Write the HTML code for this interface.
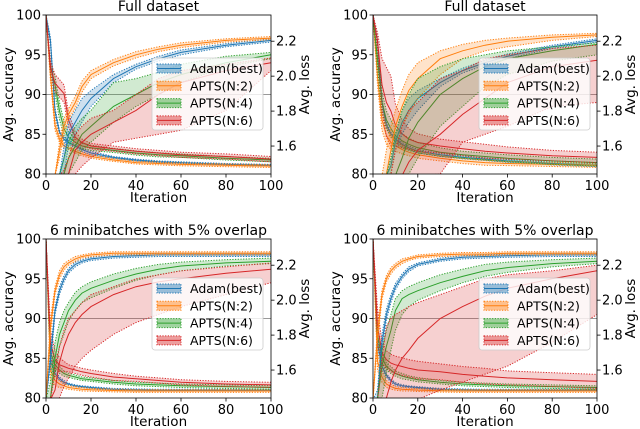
<!DOCTYPE html>
<html><head><meta charset="utf-8"><style>
html,body{margin:0;background:#fff;overflow:hidden;width:640px;height:429px}
svg{display:block;font-family:"DejaVu Sans","Liberation Sans",sans-serif}
</style></head><body>
<svg id="c" width="640" height="429" viewBox="0 0 640 429"></svg>
<script>
const iters=[0,2,4,6,8,10,13,16,20,30,40,50,60,80,100];
const accTicks=[80,85,90,95,100];
const lossTicks=[1.6,1.8,2.0,2.2];
const iterTicks=[0,20,40,60,80,100];
const seriesNames=["Adam(best)","APTS(N:2)","APTS(N:4)","APTS(N:6)"];
const panelTitles=["Full dataset","Full dataset","6 minibatches with 5% overlap","6 minibatches with 5% overlap"];
// ---- top-left
const tlAdamAcc=[70,72,75,78,82,85,86.5,88,89.5,92,93.5,94.5,95.3,96.2,96.8];
const tlAdamLo=[70,71,74,77,80,83.5,85,86.5,88.5,91.5,93.2,94.2,95,96,96.6];
const tlAdamHi=[70,73,76,79,83.5,86.5,88,89.5,90.5,92.5,93.8,94.8,95.6,96.4,97];
const tlN2Acc=[70,74,78,83,86,87.5,89,91,92.5,94,95,95.7,96.2,96.8,97.1];
const tlN2Lo=[70,73,77,82,85,86.8,88.3,90.3,92,93.6,94.6,95.4,95.9,96.6,96.9];
const tlN2Hi=[70,75,79,84,87,88.2,89.8,91.7,93,94.4,95.4,96,96.5,97,97.3];
const tlN4Acc=[70,72,74,78,80,82,83.5,85,86,88.5,90,91.5,92.5,94,95];
const tlN4Lo=[70,71,72,76,78,80,81.5,83,84,86.5,88.5,90,91.5,93.5,94.5];
const tlN4Hi=[70,73,76,80,82,84,86,87,88,91.5,92,92.8,93.8,94.8,95.3];
const tlN6Acc=[70,71,73,75,78,80,83,84,85,86.5,88,90,91.5,93,94];
const tlN6Lo=[70,70,71,73,75,77,80,81,82,84,84.5,85,85.5,88,93];
const tlN6Hi=[70,72,75,78,80.5,82,85,86,87,88,90,92,93,93.8,94.6];
const tlAdamLoss=[2.35,2.2,1.8,1.68,1.64,1.62,1.6,1.58,1.56,1.535,1.52,1.51,1.505,1.495,1.49];
const tlN2Loss=[2.35,2.0,1.72,1.64,1.6,1.59,1.57,1.555,1.54,1.52,1.505,1.5,1.495,1.49,1.485];
const tlN4Loss=[2.35,2.05,1.95,1.8,1.7,1.65,1.62,1.6,1.59,1.575,1.56,1.55,1.545,1.53,1.52];
const tlN6Loss=[2.35,2.05,1.96,1.93,1.9,1.75,1.65,1.62,1.6,1.585,1.57,1.56,1.55,1.54,1.525];
const tlAdamSpread=[0,0.02,0.02,0.01,0.01,0.01,0.01,0.01,0.01,0.005,0.005,0.005,0.005,0.005,0.005];
const tlN2Spread=[0,0.03,0.03,0.02,0.015,0.01,0.01,0.01,0.01,0.008,0.008,0.008,0.008,0.008,0.008];
const tlN4Spread=[0,0.03,0.05,0.05,0.04,0.03,0.02,0.015,0.015,0.012,0.012,0.012,0.01,0.01,0.01];
const tlN6Spread=[0,0.03,0.05,0.05,0.05,0.04,0.03,0.02,0.015,0.015,0.015,0.015,0.015,0.015,0.015];
// ---- top-right
const trAdamAcc=[70,72,75,78,81,84,86.5,88,89.5,91.5,93,94,94.8,96,96.8];
const trAdamLo=[70,71,74,77,80,83,85,86.5,88,91,92.7,93.7,94.5,95.8,96.6];
const trAdamHi=[70,73,76,79,82,85,88,89.5,90.5,92,93.3,94.3,95.1,96.2,97];
const trN2Acc=[70,72,76,80,83,86,88.5,90.5,92,94.5,95.5,96.2,96.7,97.2,97.5];
const trN2Lo=[70,71,74,77,80,83,86,87.5,89.5,92.5,94.5,95.5,96,96.8,97.3];
const trN2Hi=[70,73,78,83,86,88,90.5,92.5,94,95.5,96.3,96.8,97.1,97.5,97.7];
const trN4Acc=[70,71,72,74,76,78,82,84.5,86.5,90,92,93.5,94.5,95.5,96.3];
const trN4Lo=[70,70,70,71,73,75,78,80,82,86,88.5,91,92.5,94.2,95];
const trN4Hi=[70,72,75,78,82,85,88,90,92,93.5,94.5,95,95.5,96,96.5];
const trN6Acc=[70,70,71,72,74,76,79,81.5,83,85,87.5,89.5,91.5,93.5,94.3];
const trN6Lo=[70,70,70,70,70,70,72,76,78,80,84,85,86,88.5,89];
const trN6Hi=[70,72,74,76,80,83,86,88,89,92,93,94.5,95,95.8,96.2];
const trAdamLoss=[2.35,2.2,1.85,1.72,1.67,1.64,1.61,1.59,1.57,1.55,1.535,1.525,1.515,1.5,1.49];
const trN2Loss=[2.35,2.0,1.75,1.66,1.62,1.6,1.58,1.565,1.55,1.53,1.515,1.505,1.5,1.495,1.49];
const trN4Loss=[2.35,2.1,1.85,1.75,1.7,1.66,1.63,1.61,1.59,1.565,1.55,1.54,1.53,1.515,1.505];
const trN6Loss=[2.35,2.2,1.95,1.85,1.8,1.72,1.67,1.64,1.62,1.6,1.585,1.57,1.56,1.545,1.535];
const trAdamSpread=[0,0.02,0.02,0.015,0.01,0.01,0.01,0.01,0.01,0.008,0.008,0.008,0.008,0.008,0.008];
const trN2Spread=[0,0.05,0.06,0.05,0.04,0.03,0.025,0.02,0.02,0.015,0.015,0.015,0.012,0.012,0.012];
const trN4Spread=[0,0.05,0.06,0.05,0.05,0.04,0.04,0.035,0.03,0.025,0.02,0.02,0.02,0.02,0.02];
const trN6Spread=[0,0.05,0.15,0.2,0.2,0.12,0.08,0.06,0.05,0.04,0.04,0.04,0.035,0.03,0.03];
// ---- bottom-left
const blAdamAcc=[70,85,91,93.5,95,96,96.8,97.2,97.5,97.8,97.9,98,98,98,98];
const blAdamLo=[70,84,90.5,93,94.6,95.7,96.5,97,97.3,97.6,97.7,97.8,97.8,97.8,97.8];
const blAdamHi=[70,86,91.5,94,95.4,96.3,97.1,97.4,97.7,98,98.1,98.2,98.2,98.2,98.2];
const blN2Acc=[70,89,93.5,95.5,96.5,97,97.5,97.8,98,98.2,98.2,98.2,98.2,98.2,98.2];
const blN2Lo=[70,88,93,95,96.1,96.7,97.2,97.6,97.8,98,98,98,98,98,98];
const blN2Hi=[70,90,94,96,96.9,97.3,97.8,98,98.2,98.4,98.4,98.4,98.4,98.4,98.4];
const blN4Acc=[70,80,85,88,89.5,91,92.3,93.2,93.8,94.8,95.6,96.2,96.6,97,97.2];
const blN4Lo=[70,78,83,86.5,88,89.7,91,92,92.6,93.8,94.8,95.5,96,96.6,96.9];
const blN4Hi=[70,82,87,89.5,91,92,93.3,94,94.6,95.6,96.3,96.8,97.1,97.4,97.6];
const blN6Acc=[70,75,81,84.5,86.5,88,89.5,90.5,91.5,93,94,94.6,95,95.7,96.2];
const blN6Lo=[70,72,77,80,81.5,82.5,84,85,86,88,89.5,90.5,91.5,93,94.5];
const blN6Hi=[70,80,84,86.5,88.5,90,91,92,93,94,95,95.5,96,96.5,97];
const blAdamLoss=[2.35,1.65,1.58,1.55,1.53,1.52,1.51,1.505,1.5,1.49,1.487,1.485,1.485,1.485,1.485];
const blN2Loss=[2.35,1.6,1.54,1.52,1.51,1.5,1.495,1.49,1.487,1.483,1.48,1.48,1.48,1.48,1.48];
const blN4Loss=[2.35,1.7,1.63,1.6,1.58,1.57,1.56,1.55,1.545,1.53,1.52,1.515,1.51,1.505,1.5];
const blN6Loss=[2.35,1.75,1.66,1.63,1.62,1.61,1.6,1.59,1.58,1.56,1.55,1.54,1.53,1.52,1.515];
const blAdamSpread=[0,0.03,0.02,0.01,0.01,0.005,0.005,0.005,0.005,0.005,0.005,0.005,0.005,0.005,0.005];
const blN2Spread=[0,0.05,0.03,0.02,0.015,0.01,0.01,0.01,0.008,0.008,0.008,0.008,0.008,0.008,0.008];
const blN4Spread=[0,0.06,0.03,0.02,0.015,0.012,0.012,0.01,0.01,0.01,0.01,0.01,0.01,0.01,0.01];
const blN6Spread=[0,0.08,0.05,0.04,0.03,0.02,0.02,0.02,0.02,0.02,0.015,0.015,0.015,0.015,0.015];
// ---- bottom-right
const brAdamAcc=[70,80,87,90.5,92.5,94,95.3,96.2,96.8,97.4,97.7,97.8,97.9,98,98];
const brAdamLo=[70,79,86,89.8,92,93.6,95,95.9,96.6,97.2,97.5,97.6,97.7,97.8,97.8];
const brAdamHi=[70,81,88,91.2,93,94.4,95.6,96.5,97,97.6,97.9,98,98.1,98.2,98.2];
const brN2Acc=[70,88,93,95,96,96.6,97.2,97.5,97.8,98,98.1,98.1,98.2,98.2,98.2];
const brN2Lo=[70,87,92.4,94.6,95.6,96.3,96.9,97.3,97.6,97.8,97.9,97.9,98,98,98];
const brN2Hi=[70,89,93.6,95.4,96.4,96.9,97.5,97.7,98,98.2,98.3,98.3,98.4,98.4,98.4];
const brN4Acc=[70,78,84,86.5,88.5,91,92.5,93,93.5,94.5,95.3,96,96.4,96.9,97.2];
const brN4Lo=[70,75,80,83,86,88.5,90.5,91.5,92.3,93.5,94.5,95.3,95.8,96.5,96.9];
const brN4Hi=[70,80,86,88.5,90.5,92.5,93.5,94,94.5,95.5,96.2,96.8,97.1,97.4,97.6];
const brN6Acc=[70,72,76,80,82,83.5,85,86,87.5,90,91.5,92.8,93.8,95,96];
const brN6Lo=[70,70,70,70,70,70,70,75,78,81,82,83,84,87,90.5];
const brN6Hi=[70,78,85,89,90,90.5,91,91.5,92,93,94,95,95.5,96,96.7];
const brAdamLoss=[2.35,1.75,1.62,1.57,1.54,1.52,1.51,1.505,1.5,1.49,1.487,1.485,1.485,1.485,1.485];
const brN2Loss=[2.35,1.65,1.56,1.52,1.505,1.495,1.49,1.488,1.485,1.482,1.48,1.48,1.48,1.48,1.48];
const brN4Loss=[2.35,1.8,1.67,1.62,1.6,1.58,1.565,1.555,1.545,1.53,1.52,1.515,1.51,1.505,1.5];
const brN6Loss=[2.35,1.85,1.7,1.66,1.64,1.63,1.62,1.61,1.6,1.59,1.575,1.565,1.555,1.545,1.535];
const brAdamSpread=[0,0.04,0.02,0.01,0.01,0.008,0.006,0.005,0.005,0.005,0.005,0.005,0.005,0.005,0.005];
const brN2Spread=[0,0.05,0.03,0.02,0.015,0.01,0.01,0.008,0.008,0.008,0.008,0.008,0.008,0.008,0.008];
const brN4Spread=[0,0.06,0.03,0.02,0.02,0.015,0.015,0.012,0.012,0.01,0.01,0.01,0.01,0.01,0.01];
const brN6Spread=[0,0.1,0.06,0.05,0.05,0.05,0.05,0.05,0.05,0.045,0.045,0.045,0.04,0.04,0.04];

const colors=["#1f77b4","#ff7f0e","#2ca02c","#d62728"];
const panels=[
 {key:"top-left",x0:46,x1:271,y0:15,y1:174,
  acc:[tlAdamAcc,tlN2Acc,tlN4Acc,tlN6Acc],lo:[tlAdamLo,tlN2Lo,tlN4Lo,tlN6Lo],hi:[tlAdamHi,tlN2Hi,tlN4Hi,tlN6Hi],
  loss:[tlAdamLoss,tlN2Loss,tlN4Loss,tlN6Loss],sp:[tlAdamSpread,tlN2Spread,tlN4Spread,tlN6Spread],lx:152,ly:58},
 {key:"top-right",x0:373,x1:597,y0:15,y1:174,
  acc:[trAdamAcc,trN2Acc,trN4Acc,trN6Acc],lo:[trAdamLo,trN2Lo,trN4Lo,trN6Lo],hi:[trAdamHi,trN2Hi,trN4Hi,trN6Hi],
  loss:[trAdamLoss,trN2Loss,trN4Loss,trN6Loss],sp:[trAdamSpread,trN2Spread,trN4Spread,trN6Spread],lx:479,ly:58},
 {key:"bottom-left",x0:46,x1:271,y0:239,y1:398,
  acc:[blAdamAcc,blN2Acc,blN4Acc,blN6Acc],lo:[blAdamLo,blN2Lo,blN4Lo,blN6Lo],hi:[blAdamHi,blN2Hi,blN4Hi,blN6Hi],
  loss:[blAdamLoss,blN2Loss,blN4Loss,blN6Loss],sp:[blAdamSpread,blN2Spread,blN4Spread,blN6Spread],lx:152,ly:278},
 {key:"bottom-right",x0:373,x1:597,y0:239,y1:398,
  acc:[brAdamAcc,brN2Acc,brN4Acc,brN6Acc],lo:[brAdamLo,brN2Lo,brN4Lo,brN6Lo],hi:[brAdamHi,brN2Hi,brN4Hi,brN6Hi],
  loss:[brAdamLoss,brN2Loss,brN4Loss,brN6Loss],sp:[brAdamSpread,brN2Spread,brN4Spread,brN6Spread],lx:479,ly:278}
];
const NS="http://www.w3.org/2000/svg";
const svg=document.getElementById("c");
function mk(tag,attrs,parent,txt){const e=document.createElementNS(NS,tag);for(const k in attrs)e.setAttribute(k,attrs[k]);if(txt!==undefined)e.textContent=txt;(parent||svg).appendChild(e);return e;}
const defs=mk("defs",{});
panels.forEach((p,pi)=>{
  const X=v=>p.x0+(v/100)*(p.x1-p.x0);
  const clampY=y=>Math.min(p.y1+1.5,Math.max(p.y0-1.5,y));
  const YA=v=>clampY(p.y1-(v-80)/20*(p.y1-p.y0));
  const LMIN=1.44,LMAX=2.35;
  const YL=v=>clampY(p.y1-(v-LMIN)/(LMAX-LMIN)*(p.y1-p.y0));
  const g=mk("g",{});
  
  
  const cp=mk("clipPath",{id:"clip"+pi},defs);
  mk("rect",{x:p.x0,y:p.y0,width:p.x1-p.x0,height:p.y1-p.y0},cp);
  const plot=mk("g",{"clip-path":"url(#clip"+pi+")"},g);
  mk("line",{x1:p.x0,x2:p.x1,y1:YA(90),y2:YA(90),stroke:"#777","stroke-width":0.8},plot);
  const pts=(arr,fy)=>arr.map((v,i)=>X(iters[i]).toFixed(1)+","+fy(v).toFixed(1));
  function band(lo,hi,fy,c,name){
    const poly=mk("polygon",{points:pts(lo,fy).concat(pts(hi,fy).reverse()).join(" "),fill:c,"fill-opacity":0.22,stroke:"none"},plot);
    
    
    mk("polyline",{points:pts(lo,fy).join(" "),fill:"none",stroke:c,"stroke-width":1,"stroke-dasharray":"1.2,1.5"},plot);
    mk("polyline",{points:pts(hi,fy).join(" "),fill:"none",stroke:c,"stroke-width":1,"stroke-dasharray":"1.2,1.5"},plot);
  }
  for(let s=0;s<4;s++){
    const c=colors[s];
    const llo=p.loss[s].map((v,i)=>v-p.sp[s][i]);
    const lhi=p.loss[s].map((v,i)=>v+p.sp[s][i]);
    band(llo,lhi,YL,c,'loss-s'+s);
    const ll=mk("polyline",{points:pts(p.loss[s],YL).join(" "),fill:"none",stroke:c,"stroke-width":1},plot);
    
    
  }
  for(let s=0;s<4;s++){
    const c=colors[s];
    band(p.lo[s],p.hi[s],YA,c,'accuracy-s'+s);
    const al=mk("polyline",{points:pts(p.acc[s],YA).join(" "),fill:"none",stroke:c,"stroke-width":1},plot);
    
    
  }
  mk("rect",{x:p.x0,y:p.y0,width:p.x1-p.x0,height:p.y1-p.y0,fill:"none",stroke:"#000","stroke-width":0.8},g);
  iterTicks.forEach(t=>{
    mk("line",{x1:X(t),x2:X(t),y1:p.y1,y2:p.y1+3.5,stroke:"#000","stroke-width":0.8},g);
    const tl=mk("text",{x:X(t),y:p.y1+16,"font-size":13,"text-anchor":"middle"},g,String(t));
    
    
  });
  accTicks.forEach(t=>{
    mk("line",{x1:p.x0-3.5,x2:p.x0,y1:YA(t),y2:YA(t),stroke:"#000","stroke-width":0.8},g);
    const tl=mk("text",{x:p.x0-5,y:YA(t)+4.5,"font-size":13,"text-anchor":"end"},g,String(t));
    
    
  });
  lossTicks.forEach(t=>{
    mk("line",{x1:p.x1,x2:p.x1+3.5,y1:YL(t),y2:YL(t),stroke:"#000","stroke-width":0.8},g);
    const tl=mk("text",{x:p.x1+5,y:YL(t)+4.5,"font-size":13},g,t.toFixed(1));
    
    
  });
  const cx=(p.x0+p.x1)/2, cy=(p.y0+p.y1)/2;
  const ti=mk("text",{x:cx,y:p.y0-4,"font-size":14,"text-anchor":"middle"},g,panelTitles[pi]);
  
  
  const xl=mk("text",{x:cx,y:p.y1+28,"font-size":13.5,"text-anchor":"middle"},g,"Iteration");
  
  
  const yl=mk("text",{x:0,y:0,"font-size":13.5,"text-anchor":"middle",transform:"translate("+(p.x0-33)+","+cy+") rotate(-90)"},g,"Avg. accuracy");
  
  
  const yr=mk("text",{x:0,y:0,"font-size":13.5,"text-anchor":"middle",transform:"translate("+(p.x1+38)+","+(cy-10)+") rotate(-90)"},g,"Avg. loss");
  
  
  const lg=mk("g",{},g);
  
  
  mk("rect",{x:p.lx,y:p.ly,width:111,height:72,rx:3,fill:"#fff","fill-opacity":0.8,stroke:"#ccc","stroke-width":0.8},lg);
  seriesNames.forEach((n,s)=>{
    const yy=p.ly+10+s*17.3;
    const e=mk("g",{},lg);
    
    
    mk("rect",{x:p.lx+5,y:yy-4,width:24,height:9,fill:colors[s],"fill-opacity":0.45,stroke:colors[s],"stroke-width":1,"stroke-dasharray":"1.2,1.5"},e);
    mk("line",{x1:p.lx+5,x2:p.lx+29,y1:yy+0.5,y2:yy+0.5,stroke:colors[s],"stroke-width":1},e);
    mk("text",{x:p.lx+38,y:yy+5,"font-size":12.5},e,n);
  });
});
</script>
</body></html>
